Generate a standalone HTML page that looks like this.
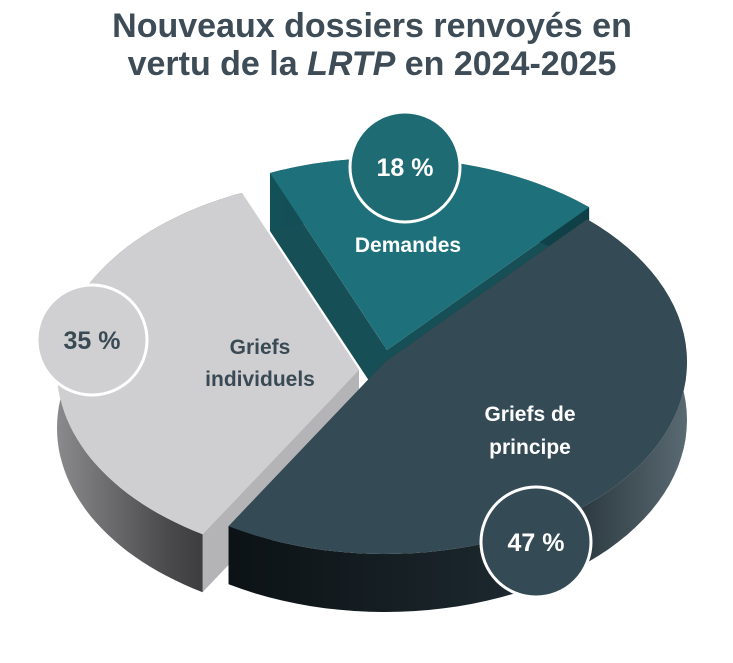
<!DOCTYPE html>
<html><head><meta charset="utf-8"><style>
body{margin:0;background:#fff;width:733px;height:658px;overflow:hidden;font-family:"Liberation Sans",sans-serif}
</style></head><body>
<svg width="733" height="658" viewBox="0 0 733 658">
<defs>
<linearGradient id="gDark" x1="0" x2="1" y1="0" y2="0"><stop offset="0" stop-color="#0c1215"/><stop offset="0.7" stop-color="#1e2b31"/><stop offset="1" stop-color="#5a6a72"/></linearGradient>
<linearGradient id="gGray" x1="0" x2="1" y1="0" y2="0"><stop offset="0" stop-color="#8a8a8c"/><stop offset="0.6" stop-color="#4a4a4c"/><stop offset="1" stop-color="#2e2e30"/></linearGradient>
<linearGradient id="gTeal" x1="0" x2="1"><stop offset="0" stop-color="#145058"/><stop offset="1" stop-color="#0f3f46"/></linearGradient>
</defs>
<text x="372" y="37" text-anchor="middle" font-size="34" font-weight="bold" fill="#3d4c56">Nouveaux dossiers renvoyés en</text>
<text x="372" y="75" text-anchor="middle" font-size="34" font-weight="bold" fill="#3d4c56">vertu de la <tspan font-style="italic">LRTP</tspan> en 2024-2025</text>
<g id="pie"></g>
<g id="labels"></g>
</svg>
<script>
const categories=["Demandes","Griefs individuels","Griefs de principe"];
const values=[18,35,47];
const pctLabels=["18 %","35 %","47 %"];
const cx=385,cy=362,rx=302,ry=192,depth=58;
const styles={
 "Griefs de principe":{top:"#344a55",side:"url(#gDark)",wall:"#22323a",off:[0,0],txt:"#fff"},
 "Griefs individuels":{top:"#cfcfd1",side:"url(#gGray)",wall:"#b4b4b6",off:[-26,8],txt:"#3a4a55"},
 "Demandes":{top:"#1e717a",side:"url(#gTeal)",wall:"#174f57",off:[2,-12],txt:"#fff"}
};
const total=values.reduce((a,b)=>a+b,0);
const startDeg=-48;
const order=[2,1,0];
let a=startDeg;const ang={};
order.forEach(i=>{const s=values[i]/total*360;ang[i]=[a,a+s];a+=s;});
const pie=document.getElementById('pie');
const NS="http://www.w3.org/2000/svg";
function P(c,t,dy){const r=t*Math.PI/180;return [c[0]+rx*Math.cos(r),c[1]+ry*Math.sin(r)+(dy||0)];}
function arc(c,a0,a1,dy){let s="";for(let t=a0;t<=a1+0.001;t+=(a1-a0)/60){const p=P(c,t,dy);s+=(s?"L":"M")+p[0].toFixed(1)+","+p[1].toFixed(1);}return s;}
function arcRev(c,a0,a1,dy){let s="";for(let t=a1;t>=a0-0.001;t-=(a1-a0)/60){const p=P(c,t,dy);s+="L"+p[0].toFixed(1)+","+p[1].toFixed(1);}return s;}
function mk(d,fill,name){const e=document.createElementNS(NS,'path');e.setAttribute('d',d);e.setAttribute('fill',fill);


pie.appendChild(e);}
[0,1,2].forEach(i=>{
 const st=styles[categories[i]];const c=[cx+st.off[0],cy+st.off[1]];
 const [a0,a1]=ang[i];const slug=categories[i].toLowerCase().replace(/ /g,'-');
 [a0,a1].forEach((t,k)=>{const p=P(c,t);mk(`M${c[0]},${c[1]}L${p[0]},${p[1]}L${p[0]},${p[1]+depth}L${c[0]},${c[1]+depth}Z`,st.wall,'slice-wall-'+slug);});
 mk(arc(c,a0,a1,0)+arcRev(c,a0,a1,depth)+"Z",st.side,'slice-side-'+slug);
 mk(`M${c[0]},${c[1]}`+arc(c,a0,a1,0).replace('M','L')+"Z",st.top,'slice-'+slug);
});
const lab=document.getElementById('labels');
function txt(x,y,s,fill,size,name){const e=document.createElementNS(NS,'text');e.setAttribute('x',x);e.setAttribute('y',y);e.setAttribute('text-anchor','middle');e.setAttribute('font-size',size);e.setAttribute('font-weight','bold');e.setAttribute('fill',fill);e.textContent=s;


lab.appendChild(e);}
function circ(x,y,fill,name){const e=document.createElementNS(NS,'circle');e.setAttribute('cx',x);e.setAttribute('cy',y);e.setAttribute('r',55);e.setAttribute('fill',fill);e.setAttribute('stroke','#fff');e.setAttribute('stroke-width',3);


lab.appendChild(e);}
const circPos=[[405,167],[92,340],[536,542]];
const circFill=["#1e6b73","#d0d0d2","#344a55"];
const circTxt=["#fff","#3a4a55","#fff"];
for(let i=0;i<3;i++){circ(circPos[i][0],circPos[i][1],circFill[i],'percent-badge-'+i);txt(circPos[i][0],circPos[i][1]+9,pctLabels[i],circTxt[i],25,'percent-label-'+i);}
txt(408,252,"Demandes","#fff",21,'label-demandes');
txt(260,354,"Griefs","#3a4a55",21,'label-griefs-individuels-1');
txt(260,386,"individuels","#3a4a55",21,'label-griefs-individuels-2');
txt(530,421,"Griefs de","#fff",21,'label-griefs-principe-1');
txt(530,454,"principe","#fff",21,'label-griefs-principe-2');
</script>
</body></html>
